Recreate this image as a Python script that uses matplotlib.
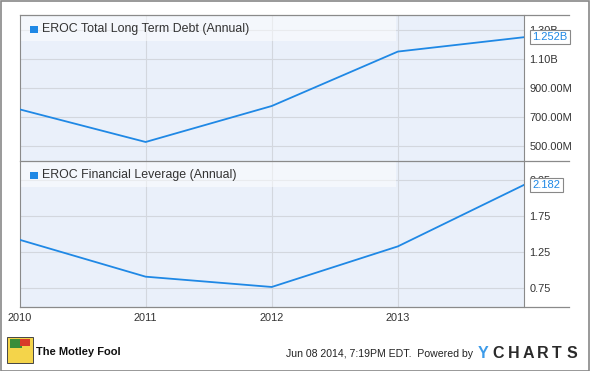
import matplotlib.pyplot as plt
from matplotlib.patches import Rectangle

years = [2010, 2011, 2012, 2013, 2014]
year_labels = ["2010", "2011", "2012", "2013"]
debt = [0.755, 0.530, 0.778, 1.153, 1.252]  # billions
leverage = [1.42, 0.907, 0.764, 1.328, 2.182]

debt_ticks = [0.5, 0.7, 0.9, 1.1, 1.3]
debt_tick_labels = ["500.00M", "700.00M", "900.00M", "1.10B", "1.30B"]
lev_ticks = [0.75, 1.25, 1.75, 2.25]
lev_tick_labels = ["0.75", "1.25", "1.75", "2.25"]

W, H = 590, 371
X0, X1 = 19.5, 524
line_c = "#1f88e5"
bg_c = "#eaf0fa"
grid_c = "#d3d7de"
spine_c = "#8a8a8a"

plt.rcParams["font.family"] = ["Liberation Sans", "DejaVu Sans"]
fig = plt.figure(figsize=(W / 100, H / 100), dpi=100)
fig.patch.set_facecolor("white")


def px(x0, y0, x1, y1):
    return [x0 / W, 1 - y1 / H, (x1 - x0) / W, (y1 - y0) / H]


def panel(rect, y, ylim, ticks, labels, title, last_label):
    ax = fig.add_axes(rect)
    ax.set_facecolor(bg_c)
    ax.plot(years, y, color=line_c, lw=1.3, zorder=3)
    ax.set_xlim(2010, 2014)
    ax.set_ylim(*ylim)
    ax.set_xticks(years[1:4])
    ax.set_yticks(ticks)
    ax.yaxis.tick_right()
    ax.set_yticklabels(labels, fontsize=7.9, color="#333333")
    ax.tick_params(axis="y", length=0, pad=4)
    ax.tick_params(axis="x", length=0, labelbottom=False)
    ax.grid(True, color=grid_c, lw=0.8, zorder=0)
    for s in ["top", "bottom"]:
        ax.spines[s].set_visible(False)
    ax.spines["right"].set_color(spine_c)
    ax.spines["left"].set_color(spine_c)
    # legend band
    ax.add_patch(Rectangle((0, 0.82), 0.747, 0.18, transform=ax.transAxes,
                           facecolor="white", alpha=0.5, edgecolor="none", zorder=2))
    ax.add_patch(Rectangle((0.021, 0.875), 0.015, 0.052, transform=ax.transAxes,
                           facecolor=line_c, edgecolor="none", zorder=4))
    ax.text(0.045, 0.902, title, transform=ax.transAxes, fontsize=8.9,
            color="#333333", va="center", ha="left", zorder=4)
    ax.annotate(last_label, xy=(years[-1], y[-1]), xytext=(6, 0),
                textcoords="offset points", fontsize=8, color=line_c,
                va="center", ha="left", annotation_clip=False, zorder=6,
                bbox=dict(boxstyle="square,pad=0.2", fc="white", ec="#888888", lw=0.8))
    return ax


ax1 = panel(px(X0, 15, X1, 161), debt, (0.399, 1.405), debt_ticks,
            debt_tick_labels, "EROC Total Long Term Debt (Annual)", "1.252B")
ax2 = panel(px(X0, 161, X1, 306.7), leverage, (0.49, 2.514), lev_ticks,
            lev_tick_labels, "EROC Financial Leverage (Annual)", "2.182")

# horizontal frame lines extending over the tick-label area
for yy in [15, 161, 306.7]:
    fig.add_artist(plt.Line2D([X0 / W, 569 / W], [1 - yy / H, 1 - yy / H],
                              color=spine_c, lw=0.9))

# x labels
for yr, lab in zip(years, year_labels):
    xp = X0 + (yr - 2010) * (X1 - X0) / 4
    fig.text(xp / W, 1 - 318 / H, lab, fontsize=7.9, color="#333333",
             ha="center", va="center")

# outer border
fig.add_artist(Rectangle((0.5 / W, 0.5 / H), (W - 1.5) / W, (H - 1.5) / H,
                         transform=fig.transFigure, fill=False, ec="#888888", lw=1.2))

# footer: Motley Fool logo placeholder
fig.add_artist(Rectangle((7 / W, 1 - 363 / H), 26 / W, 26 / H, transform=fig.transFigure,
                         fc="#f4d44a", ec="#444444", lw=0.7))
fig.add_artist(Rectangle((10 / W, 1 - 348 / H), 12 / W, 9 / H, transform=fig.transFigure,
                         fc="#3a8d3a", ec="none"))
fig.add_artist(Rectangle((20 / W, 1 - 346 / H), 10 / W, 7 / H, transform=fig.transFigure,
                         fc="#d83a2a", ec="none"))
fig.text(36 / W, 1 - 352 / H, "The Motley Fool", fontsize=8, fontweight="bold",
         color="#111111", ha="left", va="center")

fig.text(473 / W, 1 - 354 / H, "Jun 08 2014, 7:19PM EDT.  Powered by", fontsize=7.6,
         color="#222222", ha="right", va="center")
for i, ch in enumerate("YCHARTS"):
    fig.text((478 + i * 14.8) / W, 1 - 353 / H, ch, fontsize=11.5, fontweight="bold",
             color="#3d9be9" if ch == "Y" and i == 0 else "#2a2a2a",
             ha="left", va="center")

fig.savefig("out.png", dpi=100)
